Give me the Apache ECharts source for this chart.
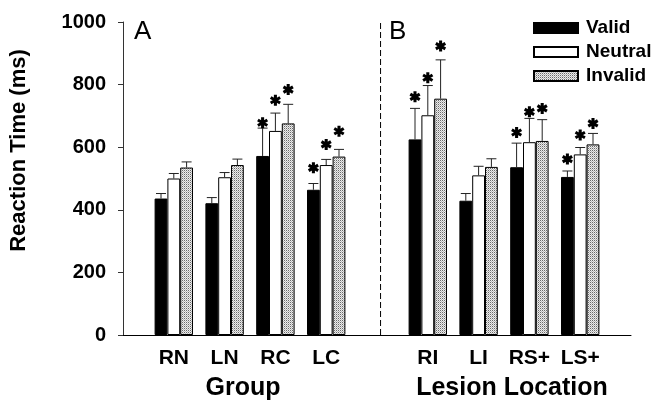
<!DOCTYPE html>
<html>
<head>
<meta charset="utf-8">
<script src="https://cdn.jsdelivr.net/npm/echarts@6/dist/echarts.min.js"></script>
<style>
  html, body { margin: 0; padding: 0; background: #fff; }
  #chart { width: 661px; height: 403px; }
</style>
</head>
<body>
<div id="chart"></div>
<script>
// ---- data ----
var categories = ["", "RN", "LN", "RC", "LC", "", "RI", "LI", "RS+", "LS+", ""];
var seriesNames = ["Valid", "Neutral", "Invalid"];
var validMean   = [null, 436, 421, 572, 464, null, 625, 429, 536, 505, null];
var neutralMean = [null, 500, 504, 652, 543, null, 702, 510, 616, 577, null];
var invalidMean = [null, 535, 543, 676, 570, null, 755, 537, 620, 609, null];
var validErr    = [null, 16, 18, 89, 20, null, 99, 23, 77, 19, null];
var neutralErr  = [null, 16, 15, 57, 18, null, 95, 29, 76, 22, null];
var invalidErr  = [null, 18, 19, 61, 23, null, 124, 26, 68, 35, null];
// asterisk positions (value at star centre), null = no star
var validStar   = [null, null, null, 678, 534, null, 761, null, 647, 562, null];
var neutralStar = [null, null, null, 750, 609, null, 822, null, 713, 639, null];
var invalidStar = [null, null, null, 784, 651, null, 923, null, 724, 676, null];
var yTicks = { min: 0, max: 1000, interval: 200 };
var dividerAt = 5.07;           // position of the dashed separator in category units
var groupTitles = ["Group", "Lesion Location"];
var panelLabels = ["A", "B"];

// ---- styling ----
var FONT = "'Liberation Sans', Arial, Helvetica, sans-serif";
var BAR_W = 12.8;

function makePattern() {
  var c = document.createElement('canvas');
  c.width = 2; c.height = 2;
  var ctx = c.getContext('2d');
  ctx.fillStyle = '#ececec';
  ctx.fillRect(0, 0, 2, 2);
  ctx.fillStyle = '#6a6a6a';
  ctx.fillRect(0, 0, 1, 1);
  ctx.fillStyle = '#b8b8b8';
  ctx.fillRect(1, 1, 1, 1);
  return { image: c, repeat: 'repeat' };
}
var fills = ['#000000', '#ffffff', makePattern()];
var means = [validMean, neutralMean, invalidMean];
var errs = [validErr, neutralErr, invalidErr];
var stars = [validStar, neutralStar, invalidStar];
var offsets = [-BAR_W, 0, BAR_W];

var starPath = 'path://M-1.4,-5 L1.4,-5 L1.4,5 L-1.4,5 Z ' +
  'M3.63,-3.71 L5.03,-1.29 L-3.63,3.71 L-5.03,1.29 Z ' +
  'M5.03,1.29 L3.63,3.71 L-5.03,-1.29 L-3.63,-3.71 Z';

var series = [];
seriesNames.forEach(function (name, k) {
  series.push({
    name: name,
    type: 'bar',
    xAxisIndex: 0,
    data: means[k],
    barWidth: BAR_W,
    barGap: '0%',
    itemStyle: { color: fills[k], borderColor: '#000', borderWidth: 1 },
    z: 2,
    animation: false
  });
});
seriesNames.forEach(function (name, k) {
  var d = [];
  means[k].forEach(function (m, i) { if (m != null) d.push([i, m, errs[k][i]]); });
  series.push({
    name: name + ' SE',
    type: 'custom',
    xAxisIndex: 0,
    data: d,
    encode: { x: 0, y: 1 },
    z: 3,
    animation: false,
    renderItem: (function (off) {
      return function (params, api) {
        var i = api.value(0), m = api.value(1), e = api.value(2);
        var p1 = api.coord([i, m]);
        var p2 = api.coord([i, m + e]);
        var x = p1[0] + off;
        var st = { stroke: '#222', lineWidth: 1, fill: null };
        return {
          type: 'group',
          children: [
            { type: 'line', shape: { x1: x, y1: p1[1], x2: x, y2: p2[1] }, style: st },
            { type: 'line', shape: { x1: x - 5, y1: p2[1], x2: x + 5, y2: p2[1] }, style: st }
          ]
        };
      };
    })(offsets[k])
  });
});
seriesNames.forEach(function (name, k) {
  var d = [];
  stars[k].forEach(function (s, i) { if (s != null) d.push([i, s]); });
  series.push({
    name: name + ' sig',
    type: 'scatter',
    xAxisIndex: 0,
    data: d,
    symbol: starPath,
    symbolSize: [11, 11],
    symbolOffset: [offsets[k], 0],
    itemStyle: { color: '#000', opacity: 1 },
    z: 4,
    animation: false
  });
});
series.push({
  name: 'divider',
  type: 'line',
  xAxisIndex: 1,
  data: [[dividerAt, yTicks.min], [dividerAt, yTicks.max]],
  symbol: 'none',
  lineStyle: { color: '#000', width: 1, type: [6, 3] },
  animation: false,
  z: 1
});

var chart = echarts.init(document.getElementById('chart'), null, { renderer: 'canvas' });
chart.setOption({
  backgroundColor: '#fff',
  animation: false,
  textStyle: { fontFamily: FONT },
  grid: { left: 118, right: 30, top: 22, bottom: 68, containLabel: false },
  legend: {
    data: seriesNames,
    orient: 'vertical',
    left: 528,
    top: 13,
    icon: 'rect',
    itemWidth: 44,
    itemHeight: 10,
    itemGap: 4,
    textStyle: { fontFamily: FONT, fontWeight: 'bold', fontSize: 19, color: '#000', lineHeight: 20, padding: [0, 0, 0, 3] },
    selectedMode: false
  },
  xAxis: [{
    type: 'category',
    data: categories,
    boundaryGap: false,
    axisLine: { lineStyle: { color: '#000', width: 1 } },
    axisTick: { show: false },
    axisLabel: { fontFamily: FONT, fontWeight: 'bold', fontSize: 21, color: '#000', margin: 13, interval: 0 },
    splitLine: { show: false }
  }, {
    type: 'value',
    min: 0,
    max: categories.length - 1,
    show: false
  }],
  yAxis: {
    type: 'value',
    min: yTicks.min,
    max: yTicks.max,
    interval: yTicks.interval,
    name: 'Reaction Time (ms)',
    nameLocation: 'middle',
    nameGap: 93,
    nameRotate: 90,
    nameTextStyle: { fontFamily: FONT, fontWeight: 'bold', fontSize: 22, color: '#000', padding: [0, 0, 0, 56] },
    axisLine: { show: true, lineStyle: { color: '#333', width: 1 } },
    axisTick: { show: true, inside: false, length: 5, lineStyle: { color: '#333' } },
    axisLabel: { fontFamily: FONT, fontWeight: 'bold', fontSize: 20, color: '#000', margin: 17,
      formatter: function (v) { return String(v); } },
    splitLine: { show: false }
  },
  graphic: [
    { type: 'text', x: 243, y: 388, style: { text: groupTitles[0], font: 'bold 25px ' + FONT, fill: '#000', textAlign: 'center', textVerticalAlign: 'middle' } },
    { type: 'text', x: 512, y: 388, style: { text: groupTitles[1], font: 'bold 25px ' + FONT, fill: '#000', textAlign: 'center', textVerticalAlign: 'middle' } },
    { type: 'text', x: 134, y: 32, style: { text: panelLabels[0], font: '26px ' + FONT, fill: '#000', textAlign: 'left', textVerticalAlign: 'middle' } },
    { type: 'text', x: 389, y: 32, style: { text: panelLabels[1], font: '26px ' + FONT, fill: '#000', textAlign: 'left', textVerticalAlign: 'middle' } }
  ],
  series: series
});
</script>
</body>
</html>
